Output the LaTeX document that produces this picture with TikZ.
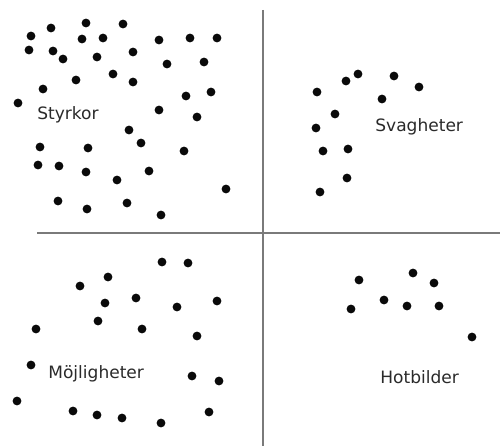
\documentclass[tikz,border=0pt]{standalone}
\usepackage{fontspec}
\usepackage{xcolor}
\usepackage{tikz}
\newfontfamily\swotfont{DejaVu Sans}
\definecolor{axisgray}{HTML}{7a7a7a}
\definecolor{dotblack}{HTML}{0a0a0a}
\definecolor{labelgray}{HTML}{2a2a2a}
\tikzstyle{axis} = [draw=axisgray, line width=0.85pt]
\tikzstyle{dot} = [fill=dotblack]
\tikzstyle{quadlabel} = [inner sep=0pt, text=labelgray, font=\swotfont\fontsize{9.7}{11}\selectfont]

\begin{document}
\begin{tikzpicture}[x=0.02cm, y=-0.02cm]
  \useasboundingbox (0,0) rectangle (500,446);

  % Axes
  \draw[axis] (263,10) -- (263,446);
  \draw[axis] (37,233) -- (500,233);

  % Styrkor
  \foreach \x/\y in {31/36, 51/28, 86/23, 123/24, 29/50, 53/51, 63/59, 82/39,
      103/38, 97/57, 133/52, 159/40, 190/38, 217/38, 167/64, 204/62, 43/89,
      76/80, 113/74, 133/82, 18/103, 186/96, 211/92, 159/110, 197/117,
      129/130, 141/143, 184/151, 40/147, 88/148, 38/165, 59/166, 86/172,
      117/180, 149/171, 226/189, 58/201, 87/209, 127/203, 161/215}
    \fill[dot] (\x,\y) circle (4.4);
  \node (styrkor) [quadlabel, anchor=west] at (37,115) {Styrkor};

  % Svagheter
  \foreach \x/\y in {317/92, 346/81, 358/74, 394/76, 419/87, 382/99, 335/114,
      316/128, 323/151, 348/149, 347/178, 320/192}
    \fill[dot] (\x,\y) circle (4.4);
  \node (svagheter) [quadlabel, anchor=west] at (375,127) {Svagheter};

  % Möjligheter
  \foreach \x/\y in {162/262, 188/263, 108/277, 80/286, 105/303, 136/298,
      177/307, 217/301, 36/329, 98/321, 142/329, 197/336, 31/365, 192/376,
      219/381, 17/401, 73/411, 97/415, 122/418, 161/423, 209/412}
    \fill[dot] (\x,\y) circle (4.4);
  \node (mojligheter) [quadlabel, anchor=west] at (48,374) {Möjligheter};

  % Hotbilder
  \foreach \x/\y in {359/280, 413/273, 434/283, 351/309, 384/300, 407/306,
      439/306, 472/337}
    \fill[dot] (\x,\y) circle (4.4);
  \node (hotbilder) [quadlabel, anchor=west] at (380,377) {Hotbilder};
\end{tikzpicture}
\end{document}
